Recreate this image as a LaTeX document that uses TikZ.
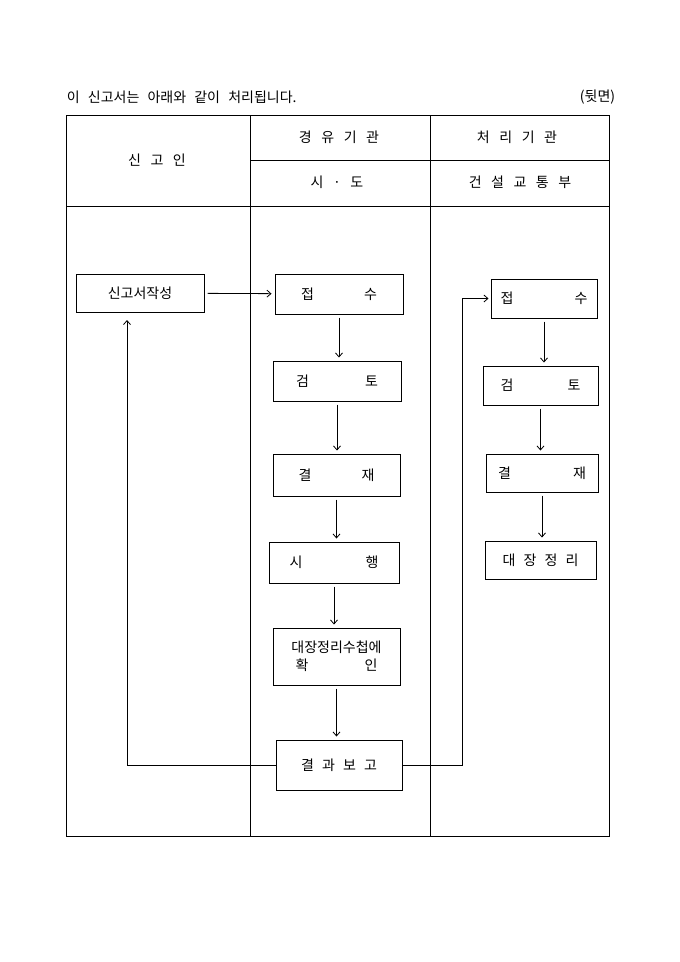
\documentclass[tikz,border=0pt]{standalone}
\usepackage{fontspec}
\setmainfont{Noto Sans CJK KR}[WordSpace=2.6]
\usetikzlibrary{arrows.meta}
\newcommand{\gap}{\hspace{9.5pt}}
\newcommand{\wide}[2]{\makebox[#1pt]{#2}}

\begin{document}
\begin{tikzpicture}[x=1pt, y=-1pt, >={Straight Barb[length=4pt,width=7pt]},
  stepbox/.style={draw, line width=1pt, inner sep=0pt, align=center},
  flow/.style={->, line width=0.8pt, shorten >=3pt, shorten <=3pt},
  route/.style={->, line width=0.8pt}]

  \fontsize{14}{16}\selectfont

  \useasboundingbox (0,0) rectangle (680,962);

  % table frame
  \draw[line width=1pt] (66,115) rectangle (609,836);
  \draw[line width=1pt] (250,115) -- (250,836);
  \draw[line width=1pt] (430,115) -- (430,836);
  \draw[line width=1pt] (250,160) -- (609,160);
  \draw[line width=1pt] (66,206) -- (609,206);

  \node[anchor=west] (title) at (62,97) {이 신고서는 아래와 같이 처리됩니다.};
  \node[anchor=east] (side) at (620,97) {(뒷면)};

  \node (who)   at (157,160) {신\gap 고\gap 인};
  \node (via)   at (339,137) {경\gap 유\gap 기\gap 관};
  \node (proc)  at (517,137) {처\gap 리\gap 기\gap 관};
  \node (city)  at (337,182) {시\gap ·\gap 도};
  \node (minis) at (520,182) {건\gap 설\gap 교\gap 통\gap 부};

  % applicant
  \node[stepbox, minimum width=128pt, minimum height=38pt] (write) at (140,293) {신고서작성};

  % city / province
  \node[stepbox, minimum width=128pt, minimum height=40pt] (recvA)   at (339,294)   {\wide{76}{접\hfill 수}};
  \node[stepbox, minimum width=128pt, minimum height=40pt] (checkA)  at (337,381)   {\wide{82}{검\hfill 토}};
  \node[stepbox, minimum width=127pt, minimum height=42pt] (signA)   at (336.5,475) {\wide{76}{결\hfill 재}};
  \node[stepbox, minimum width=130pt, minimum height=41pt] (execA)   at (334,562.5) {\wide{89}{시\hfill 행}};
  \node[stepbox, minimum width=127pt, minimum height=57pt] (ledgerA) at (336.5,656.5)
    {대장정리수첩에\\[2pt]\wide{82}{확\hfill 인}};
  \node[stepbox, minimum width=126pt, minimum height=50pt] (report)  at (339,765)   {결 과 보 고};

  % ministry
  \node[stepbox, minimum width=106pt, minimum height=39pt] (recvB)   at (544,298.5) {\wide{87}{접\hfill 수}};
  \node[stepbox, minimum width=115pt, minimum height=39pt] (checkB)  at (540.5,385.5) {\wide{80}{검\hfill 토}};
  \node[stepbox, minimum width=112pt, minimum height=38pt] (signB)   at (542,473)   {\wide{88}{결\hfill 재}};
  \node[stepbox, minimum width=111pt, minimum height=38pt] (ledgerB) at (540.5,560) {대 장 정 리};

  \coordinate (backup) at (127,320);
  \coordinate (bend) at (462,298.5);

  \draw[flow] (write) -- (recvA); %% write->recvA

  \draw[flow] (recvA.south)  -- (recvA.south |- checkA.north);
  \draw[flow] (checkA.south) -- (checkA.south |- signA.north);
  \draw[flow] (signA.south)  -- (signA.south |- execA.north);
  \draw[flow] (execA.south)  -- (execA.south |- ledgerA.north);
  \draw[flow] (ledgerA.south) -- (ledgerA.south |- report.north);

  \draw[route] (report.west) -| (backup); %% report->applicant
  \draw[route, shorten >=2pt] (report.east) -| (bend) -- (recvB.west); %% report->ministry

  \draw[flow] (recvB.south)  -- (recvB.south |- checkB.north);
  \draw[flow] (checkB.south) -- (checkB.south |- signB.north);
  \draw[flow] (signB.south)  -- (signB.south |- ledgerB.north);
\end{tikzpicture}
\end{document}
